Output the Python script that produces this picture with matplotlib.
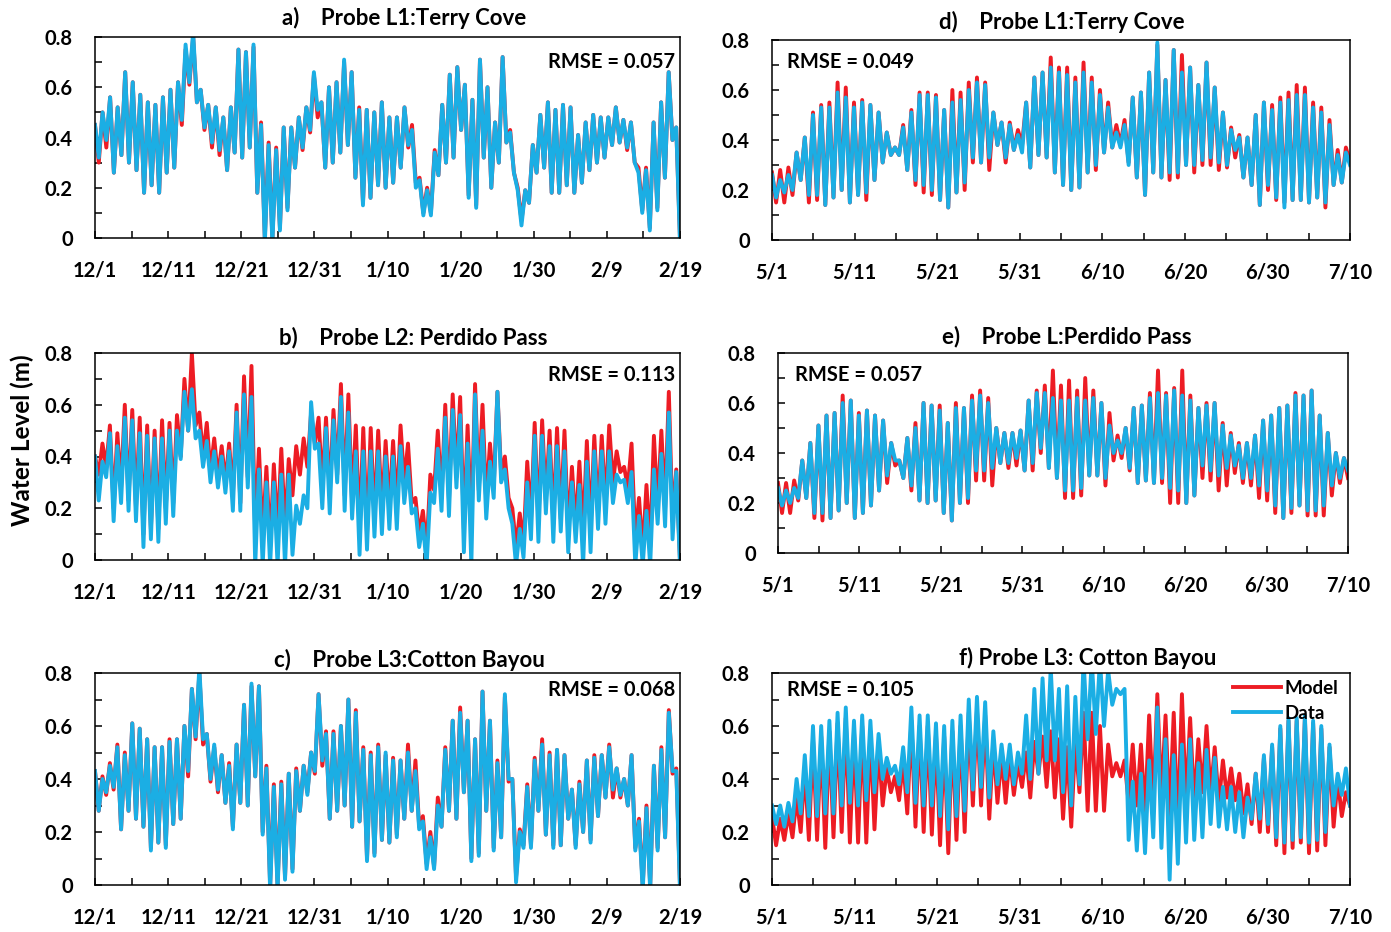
import numpy as np
import matplotlib
matplotlib.use('Agg')
import matplotlib.pyplot as plt
from matplotlib.ticker import MultipleLocator

plt.rcParams['font.family'] = ['Lato', 'DejaVu Sans']
plt.rcParams['font.weight'] = 'bold'

# ---------------- data: daily high / low water level (m) ----------------
left_labels = ['12/1', '12/11', '12/21', '12/31', '1/10', '1/20', '1/30', '2/9', '2/19']
right_labels = ['5/1', '5/11', '5/21', '5/31', '6/10', '6/20', '6/30', '7/10']

# a) Probe L1 Terry Cove, Dec-Feb
a_data_hi = [0.45, 0.50, 0.56, 0.52, 0.66, 0.62, 0.57, 0.54, 0.53, 0.56,
             0.59, 0.62, 0.77, 0.82, 0.59, 0.53, 0.52, 0.48, 0.52, 0.75,
             0.74, 0.77, 0.45, 0.37, 0.35, 0.44, 0.44, 0.48, 0.52, 0.66,
             0.54, 0.60, 0.62, 0.71, 0.66, 0.51, 0.51, 0.50, 0.54, 0.48,
             0.48, 0.52, 0.43, 0.23, 0.19, 0.34, 0.53, 0.65, 0.68, 0.61,
             0.55, 0.71, 0.60, 0.46, 0.72, 0.42, 0.19, 0.19, 0.37, 0.49,
             0.54, 0.51, 0.53, 0.52, 0.41, 0.46, 0.49, 0.48, 0.48, 0.52,
             0.47, 0.46, 0.26, 0.27, 0.46, 0.54, 0.66, 0.44]
a_data_lo = [0.32, 0.39, 0.26, 0.33, 0.30, 0.27, 0.18, 0.21, 0.18, 0.26,
             0.28, 0.47, 0.62, 0.54, 0.44, 0.38, 0.35, 0.27, 0.34, 0.32,
             0.36, 0.18, -0.02, -0.02, 0.03, 0.11, 0.28, 0.36, 0.43, 0.51,
             0.28, 0.30, 0.34, 0.37, 0.24, 0.13, 0.16, 0.21, 0.20, 0.22,
             0.28, 0.37, 0.20, 0.09, 0.09, 0.25, 0.30, 0.32, 0.43, 0.16,
             0.12, 0.32, 0.20, 0.30, 0.38, 0.26, 0.05, 0.14, 0.26, 0.28,
             0.18, 0.18, 0.21, 0.18, 0.22, 0.27, 0.30, 0.32, 0.37, 0.38,
             0.36, 0.30, 0.10, 0.03, 0.11, 0.24, 0.39, -0.02]
a_model_hi = [0.45, 0.50, 0.56, 0.52, 0.66, 0.62, 0.57, 0.54, 0.53, 0.56,
              0.59, 0.62, 0.75, 0.80, 0.59, 0.53, 0.52, 0.48, 0.52, 0.75,
              0.74, 0.76, 0.46, 0.38, 0.36, 0.44, 0.44, 0.48, 0.52, 0.65,
              0.54, 0.60, 0.62, 0.70, 0.66, 0.52, 0.51, 0.50, 0.54, 0.48,
              0.48, 0.52, 0.45, 0.24, 0.20, 0.35, 0.53, 0.65, 0.68, 0.61,
              0.55, 0.71, 0.60, 0.46, 0.72, 0.43, 0.20, 0.19, 0.37, 0.49,
              0.54, 0.51, 0.53, 0.52, 0.41, 0.46, 0.49, 0.48, 0.48, 0.52,
              0.47, 0.46, 0.28, 0.28, 0.46, 0.54, 0.66, 0.44]
a_model_lo = [0.30, 0.36, 0.26, 0.33, 0.30, 0.27, 0.18, 0.21, 0.18, 0.26,
              0.28, 0.45, 0.61, 0.54, 0.43, 0.36, 0.33, 0.27, 0.34, 0.32,
              0.36, 0.18, 0.0, 0.0, 0.04, 0.12, 0.28, 0.35, 0.42, 0.48,
              0.28, 0.30, 0.34, 0.37, 0.24, 0.14, 0.16, 0.21, 0.20, 0.22,
              0.28, 0.36, 0.22, 0.10, 0.10, 0.25, 0.30, 0.32, 0.43, 0.17,
              0.13, 0.32, 0.20, 0.30, 0.38, 0.26, 0.07, 0.14, 0.26, 0.28,
              0.18, 0.18, 0.21, 0.18, 0.22, 0.27, 0.30, 0.32, 0.37, 0.38,
              0.35, 0.30, 0.11, 0.04, 0.12, 0.24, 0.39, 0.0]

# b) Probe L2 Perdido Pass, Dec-Feb
b_data_hi = [0.40, 0.38, 0.49, 0.44, 0.55, 0.54, 0.49, 0.48, 0.47, 0.47,
             0.50, 0.50, 0.65, 0.66, 0.50, 0.46, 0.42, 0.40, 0.42, 0.57,
             0.64, 0.63, 0.35, 0.30, 0.30, 0.33, 0.33, 0.21, 0.25, 0.61,
             0.45, 0.51, 0.54, 0.63, 0.57, 0.42, 0.42, 0.42, 0.42, 0.40,
             0.40, 0.44, 0.36, 0.20, 0.14, 0.26, 0.43, 0.55, 0.58, 0.56,
             0.45, 0.64, 0.50, 0.38, 0.65, 0.35, 0.14, 0.12, 0.30, 0.48,
             0.48, 0.44, 0.44, 0.42, 0.30, 0.29, 0.38, 0.42, 0.42, 0.42,
             0.33, 0.31, 0.34, 0.17, 0.19, 0.35, 0.41, 0.57, 0.34]
b_data_lo = [0.23, 0.32, 0.15, 0.22, 0.19, 0.15, 0.05, 0.08, 0.07, 0.14,
             0.17, 0.39, 0.50, 0.47, 0.36, 0.30, 0.28, 0.26, 0.19, 0.19,
             0.28, -0.02, -0.02, -0.02, -0.02, -0.02, 0.02, 0.14, 0.20, 0.43,
             0.20, 0.18, 0.30, 0.19, 0.16, 0.02, 0.04, 0.09, 0.10, 0.12,
             0.12, 0.22, 0.18, 0.05, -0.02, 0.22, 0.19, 0.17, 0.28, 0.03,
             -0.02, 0.23, 0.16, 0.24, 0.30, 0.20, -0.02, 0.01, 0.08, 0.07,
             0.18, 0.07, 0.11, 0.03, 0.07, -0.02, 0.03, 0.12, 0.14, 0.22,
             0.30, 0.22, -0.02, -0.02, -0.02, 0.14, 0.13, 0.08, -0.02]
b_model_hi = [0.40, 0.45, 0.52, 0.49, 0.60, 0.58, 0.55, 0.52, 0.50, 0.54,
              0.53, 0.56, 0.70, 0.80, 0.57, 0.53, 0.47, 0.44, 0.45, 0.60,
              0.71, 0.75, 0.43, 0.36, 0.37, 0.43, 0.39, 0.44, 0.47, 0.57,
              0.55, 0.55, 0.58, 0.68, 0.64, 0.52, 0.51, 0.51, 0.50, 0.46,
              0.46, 0.52, 0.45, 0.24, 0.19, 0.33, 0.50, 0.60, 0.64, 0.63,
              0.52, 0.68, 0.60, 0.45, 0.65, 0.40, 0.20, 0.18, 0.38, 0.53,
              0.54, 0.50, 0.51, 0.50, 0.36, 0.38, 0.46, 0.48, 0.48, 0.52,
              0.42, 0.36, 0.45, 0.24, 0.29, 0.48, 0.50, 0.65, 0.35]
b_model_lo = [0.33, 0.36, 0.20, 0.28, 0.23, 0.20, 0.10, 0.12, 0.12, 0.20,
              0.22, 0.40, 0.50, 0.52, 0.40, 0.34, 0.32, 0.30, 0.25, 0.22,
              0.32, 0.10, 0.08, 0.05, 0.10, 0.12, 0.25, 0.33, 0.36, 0.45,
              0.28, 0.25, 0.33, 0.25, 0.22, 0.10, 0.10, 0.15, 0.18, 0.20,
              0.20, 0.30, 0.22, 0.10, 0.04, 0.27, 0.24, 0.23, 0.32, 0.12,
              0.12, 0.27, 0.22, 0.28, 0.33, 0.24, 0.05, 0.06, 0.15, 0.14,
              0.23, 0.14, 0.16, 0.10, 0.12, 0.10, 0.12, 0.18, 0.20, 0.30,
              0.34, 0.28, 0.08, 0.03, 0.05, 0.20, 0.20, 0.15, 0.0]

# c) Probe L3 Cotton Bayou, Dec-Feb
c_data_hi = [0.43, 0.40, 0.45, 0.52, 0.49, 0.61, 0.59, 0.55, 0.52, 0.52,
             0.54, 0.55, 0.60, 0.74, 0.82, 0.57, 0.53, 0.49, 0.45, 0.53,
             0.68, 0.76, 0.75, 0.44, 0.37, 0.38, 0.42, 0.43, 0.45, 0.50,
             0.72, 0.57, 0.57, 0.60, 0.70, 0.65, 0.51, 0.49, 0.52, 0.50,
             0.47, 0.47, 0.50, 0.43, 0.24, 0.18, 0.30, 0.51, 0.62, 0.65,
             0.62, 0.55, 0.73, 0.62, 0.46, 0.72, 0.40, 0.20, 0.37,
             0.47, 0.53, 0.49, 0.51, 0.49, 0.36, 0.38, 0.47, 0.48, 0.49,
             0.52, 0.44, 0.40, 0.49, 0.24, 0.29, 0.45, 0.51, 0.65, 0.43]
c_data_lo = [0.28, 0.35, 0.37, 0.21, 0.28, 0.25, 0.22, 0.13, 0.16, 0.14,
             0.23, 0.25, 0.43, 0.56, 0.55, 0.40, 0.36, 0.31, 0.21, 0.31,
             0.30, 0.41, 0.19, -0.02, -0.02, 0.02, 0.05, 0.28, 0.34, 0.43,
             0.47, 0.25, 0.28, 0.30, 0.22, 0.24, 0.09, 0.11, 0.17, 0.16,
             0.18, 0.25, 0.28, 0.21, 0.06, 0.06, 0.22, 0.28, 0.25, 0.35,
             0.09, 0.11, 0.28, 0.13, 0.18, 0.40, 0.01, 0.14, 0.14,
             0.28, 0.19, 0.14, 0.15, 0.25, 0.14, 0.20, 0.16, 0.26, 0.33,
             0.36, 0.34, 0.30, 0.13, -0.02, -0.02, 0.13, 0.18, 0.43, -0.02]
c_model_hi = [0.43, 0.41, 0.46, 0.53, 0.50, 0.61, 0.59, 0.55, 0.52, 0.52,
              0.55, 0.55, 0.60, 0.74, 0.80, 0.57, 0.52, 0.49, 0.46, 0.53,
              0.68, 0.75, 0.75, 0.45, 0.38, 0.39, 0.42, 0.44, 0.45, 0.50,
              0.72, 0.58, 0.58, 0.60, 0.70, 0.66, 0.52, 0.50, 0.53, 0.49,
              0.48, 0.47, 0.53, 0.47, 0.26, 0.20, 0.33, 0.52, 0.62, 0.67,
              0.62, 0.55, 0.73, 0.62, 0.47, 0.71, 0.40, 0.21, 0.38,
              0.48, 0.55, 0.50, 0.51, 0.49, 0.36, 0.39, 0.47, 0.49, 0.49,
              0.53, 0.44, 0.40, 0.49, 0.25, 0.30, 0.45, 0.52, 0.66, 0.44]
c_model_lo = [0.28, 0.34, 0.36, 0.21, 0.28, 0.25, 0.22, 0.14, 0.16, 0.15,
              0.23, 0.25, 0.41, 0.55, 0.53, 0.39, 0.35, 0.31, 0.22, 0.31,
              0.30, 0.41, 0.20, 0.0, 0.0, 0.03, 0.06, 0.28, 0.35, 0.42,
              0.45, 0.25, 0.28, 0.30, 0.22, 0.24, 0.10, 0.12, 0.17, 0.16,
              0.19, 0.25, 0.28, 0.22, 0.08, 0.07, 0.22, 0.28, 0.25, 0.35,
              0.10, 0.12, 0.28, 0.14, 0.18, 0.39, 0.03, 0.15, 0.15,
              0.28, 0.19, 0.15, 0.15, 0.25, 0.15, 0.20, 0.17, 0.26, 0.33,
              0.33, 0.33, 0.30, 0.14, 0.0, 0.0, 0.14, 0.18, 0.42, 0.0]

# d) Probe L1 Terry Cove, May-Jul
d_data_hi = [0.26, 0.24, 0.26, 0.35, 0.41, 0.50, 0.53, 0.53, 0.59, 0.57,
             0.53, 0.55, 0.54, 0.51, 0.43, 0.37, 0.45, 0.51, 0.58, 0.58,
             0.57, 0.52, 0.55, 0.56, 0.60, 0.63, 0.62, 0.51, 0.47, 0.46,
             0.42, 0.55, 0.65, 0.67, 0.69, 0.67, 0.66, 0.63, 0.67, 0.63,
             0.58, 0.53, 0.43, 0.46, 0.57, 0.59, 0.67, 0.79, 0.64, 0.76,
             0.67, 0.69, 0.62, 0.71, 0.61, 0.51, 0.44, 0.41, 0.41, 0.50,
             0.55, 0.52, 0.55, 0.56, 0.58, 0.58, 0.53, 0.51, 0.46, 0.34,
             0.35]
d_data_lo = [0.17, 0.19, 0.20, 0.24, 0.18, 0.18, 0.14, 0.17, 0.20, 0.15,
             0.18, 0.19, 0.24, 0.31, 0.34, 0.34, 0.28, 0.24, 0.22, 0.20,
             0.16, 0.13, 0.19, 0.23, 0.33, 0.31, 0.33, 0.38, 0.33, 0.36,
             0.35, 0.29, 0.34, 0.33, 0.27, 0.22, 0.20, 0.21, 0.27, 0.30,
             0.35, 0.37, 0.37, 0.30, 0.25, 0.18, 0.27, 0.25, 0.27, 0.27,
             0.30, 0.30, 0.32, 0.33, 0.31, 0.30, 0.36, 0.25, 0.22, 0.14,
             0.22, 0.17, 0.13, 0.16, 0.16, 0.15, 0.17, 0.15, 0.22, 0.23,
             0.30]
d_model_hi = [0.27, 0.28, 0.29, 0.35, 0.41, 0.51, 0.54, 0.55, 0.63, 0.61,
              0.55, 0.56, 0.54, 0.51, 0.43, 0.37, 0.46, 0.52, 0.59, 0.59,
              0.58, 0.52, 0.60, 0.59, 0.63, 0.65, 0.63, 0.51, 0.47, 0.47,
              0.44, 0.55, 0.65, 0.67, 0.73, 0.69, 0.69, 0.65, 0.71, 0.65,
              0.60, 0.55, 0.46, 0.48, 0.57, 0.59, 0.67, 0.78, 0.64, 0.76,
              0.74, 0.69, 0.62, 0.71, 0.61, 0.51, 0.45, 0.42, 0.41, 0.50,
              0.55, 0.54, 0.57, 0.59, 0.62, 0.61, 0.55, 0.53, 0.48, 0.36,
              0.37]
d_model_lo = [0.15, 0.15, 0.18, 0.24, 0.15, 0.16, 0.14, 0.17, 0.20, 0.15,
              0.18, 0.16, 0.24, 0.31, 0.34, 0.34, 0.28, 0.22, 0.19, 0.18,
              0.16, 0.13, 0.19, 0.20, 0.31, 0.31, 0.28, 0.38, 0.31, 0.36,
              0.38, 0.29, 0.34, 0.33, 0.27, 0.22, 0.20, 0.21, 0.27, 0.28,
              0.35, 0.37, 0.38, 0.31, 0.25, 0.18, 0.27, 0.25, 0.24, 0.25,
              0.30, 0.27, 0.30, 0.30, 0.28, 0.29, 0.33, 0.25, 0.22, 0.14,
              0.20, 0.16, 0.15, 0.16, 0.16, 0.15, 0.17, 0.13, 0.22, 0.23,
              0.31]

# e) Probe L Perdido Pass, May-Jul
e_data_hi = [0.26, 0.25, 0.26, 0.37, 0.44, 0.51, 0.55, 0.56, 0.60, 0.61,
             0.55, 0.57, 0.55, 0.53, 0.44, 0.37, 0.46, 0.50, 0.60, 0.59,
             0.57, 0.52, 0.58, 0.58, 0.61, 0.63, 0.60, 0.50, 0.48, 0.48,
             0.49, 0.61, 0.64, 0.64, 0.62, 0.61, 0.61, 0.62, 0.61, 0.62,
             0.60, 0.51, 0.45, 0.50, 0.58, 0.59, 0.62, 0.64, 0.63, 0.65,
             0.63, 0.61, 0.58, 0.59, 0.60, 0.51, 0.47, 0.43, 0.44, 0.47,
             0.53, 0.55, 0.58, 0.59, 0.63, 0.63, 0.65, 0.55, 0.48, 0.40,
             0.38]
e_data_lo = [0.19, 0.20, 0.22, 0.22, 0.16, 0.16, 0.14, 0.17, 0.20, 0.14,
             0.16, 0.19, 0.25, 0.31, 0.37, 0.30, 0.27, 0.21, 0.20, 0.21,
             0.16, 0.13, 0.20, 0.22, 0.33, 0.33, 0.34, 0.36, 0.36, 0.38,
             0.33, 0.36, 0.42, 0.34, 0.30, 0.25, 0.25, 0.26, 0.31, 0.31,
             0.30, 0.40, 0.40, 0.34, 0.28, 0.29, 0.28, 0.30, 0.26, 0.25,
             0.20, 0.23, 0.35, 0.33, 0.31, 0.34, 0.35, 0.30, 0.30, 0.27,
             0.25, 0.19, 0.14, 0.18, 0.19, 0.17, 0.17, 0.19, 0.27, 0.30,
             0.33]
e_model_hi = [0.28, 0.28, 0.29, 0.37, 0.44, 0.51, 0.55, 0.56, 0.63, 0.61,
              0.56, 0.57, 0.55, 0.53, 0.44, 0.37, 0.46, 0.52, 0.60, 0.59,
              0.59, 0.52, 0.60, 0.58, 0.63, 0.65, 0.62, 0.50, 0.48, 0.48,
              0.49, 0.61, 0.65, 0.67, 0.73, 0.67, 0.69, 0.65, 0.70, 0.65,
              0.60, 0.56, 0.47, 0.50, 0.58, 0.59, 0.64, 0.73, 0.64, 0.66,
              0.73, 0.63, 0.58, 0.60, 0.60, 0.52, 0.48, 0.44, 0.44, 0.47,
              0.53, 0.55, 0.58, 0.59, 0.64, 0.63, 0.65, 0.55, 0.48, 0.40,
              0.38]
e_model_lo = [0.16, 0.16, 0.21, 0.22, 0.14, 0.13, 0.14, 0.17, 0.20, 0.14,
              0.16, 0.19, 0.25, 0.28, 0.35, 0.30, 0.25, 0.21, 0.20, 0.21,
              0.16, 0.13, 0.20, 0.20, 0.29, 0.29, 0.27, 0.36, 0.34, 0.35,
              0.33, 0.33, 0.40, 0.34, 0.30, 0.22, 0.22, 0.23, 0.31, 0.31,
              0.27, 0.37, 0.38, 0.33, 0.28, 0.29, 0.28, 0.28, 0.20, 0.20,
              0.20, 0.23, 0.30, 0.29, 0.25, 0.27, 0.32, 0.28, 0.27, 0.22,
              0.21, 0.16, 0.14, 0.16, 0.19, 0.15, 0.15, 0.15, 0.23, 0.28,
              0.30]

# f) Probe L3 Cotton Bayou, May-Jul
f_data_hi = [0.30, 0.30, 0.31, 0.40, 0.49, 0.60, 0.60, 0.62, 0.65, 0.67,
             0.62, 0.64, 0.62, 0.57, 0.48, 0.45, 0.52, 0.67, 0.64, 0.64,
             0.61, 0.60, 0.62, 0.64, 0.70, 0.71, 0.69, 0.58, 0.53, 0.53,
             0.50, 0.64, 0.74, 0.78, 0.82, 0.74, 0.75, 0.71, 0.85, 0.85,
             0.85, 0.81, 0.74, 0.74, 0.39, 0.42, 0.47, 0.67, 0.55, 0.49,
             0.53, 0.55, 0.46, 0.51, 0.48, 0.37, 0.37, 0.35, 0.33, 0.42,
             0.49, 0.53, 0.60, 0.63, 0.63, 0.64, 0.62, 0.60, 0.53, 0.42,
             0.44]
f_data_lo = [0.23, 0.22, 0.24, 0.27, 0.26, 0.26, 0.27, 0.27, 0.30, 0.31,
             0.30, 0.32, 0.35, 0.40, 0.42, 0.38, 0.35, 0.31, 0.30, 0.30,
             0.26, 0.21, 0.26, 0.28, 0.36, 0.37, 0.33, 0.38, 0.40, 0.38,
             0.42, 0.40, 0.42, 0.47, 0.47, 0.35, 0.30, 0.38, 0.55, 0.57,
             0.60, 0.68, 0.72, 0.17, 0.13, 0.12, 0.18, 0.14, 0.02, 0.08,
             0.16, 0.17, 0.18, 0.23, 0.22, 0.21, 0.20, 0.18, 0.25, 0.25,
             0.23, 0.18, 0.16, 0.17, 0.18, 0.16, 0.17, 0.20, 0.30, 0.34,
             0.30]
f_model_hi = [0.26, 0.25, 0.27, 0.33, 0.44, 0.55, 0.56, 0.58, 0.61, 0.63,
              0.58, 0.60, 0.58, 0.53, 0.44, 0.41, 0.47, 0.62, 0.60, 0.60,
              0.57, 0.56, 0.58, 0.60, 0.65, 0.66, 0.64, 0.54, 0.49, 0.49,
              0.46, 0.50, 0.54, 0.56, 0.58, 0.55, 0.52, 0.55, 0.65, 0.65,
              0.60, 0.53, 0.46, 0.47, 0.53, 0.53, 0.64, 0.72, 0.64, 0.65,
              0.72, 0.63, 0.55, 0.60, 0.52, 0.47, 0.44, 0.42, 0.38, 0.42,
              0.48, 0.52, 0.59, 0.62, 0.62, 0.63, 0.61, 0.59, 0.52, 0.40,
              0.35]
f_model_lo = [0.15, 0.17, 0.18, 0.20, 0.17, 0.17, 0.14, 0.18, 0.20, 0.16,
              0.16, 0.16, 0.21, 0.30, 0.35, 0.32, 0.27, 0.22, 0.20, 0.19,
              0.15, 0.12, 0.17, 0.20, 0.30, 0.30, 0.25, 0.31, 0.31, 0.34,
              0.37, 0.33, 0.42, 0.37, 0.33, 0.25, 0.22, 0.35, 0.28, 0.28,
              0.28, 0.41, 0.41, 0.31, 0.30, 0.26, 0.30, 0.32, 0.25, 0.20,
              0.30, 0.30, 0.35, 0.34, 0.31, 0.33, 0.32, 0.27, 0.23, 0.20,
              0.20, 0.15, 0.12, 0.14, 0.16, 0.12, 0.13, 0.15, 0.22, 0.26,
              0.30]

RED = '#ED1C24'
BLUE = '#1BAEE4'
W, H = 1391, 932


def tide(hi, lo, span):
    # alternate high and low water over the record length
    y = np.empty(2 * len(hi))
    y[0::2] = hi
    y[1::2] = lo
    x = np.linspace(0, span, len(y))
    return x, y


def box(l, t, r, b):
    return [l / W, 1 - b / H, (r - l) / W, (b - t) / H]


panels = [
    # rect(px), span, labels, model hi/lo, data hi/lo, title(x,y), rmse(text, x, y, ha)
    (box(95, 37, 680, 238), 80, left_labels, a_model_hi, a_model_lo, a_data_hi, a_data_lo,
     'a)    Probe L1:Terry Cove', 404, 18, 'RMSE = 0.057', 675, 62, 'right'),
    (box(95, 353, 680, 560), 80, left_labels, b_model_hi, b_model_lo, b_data_hi, b_data_lo,
     'b)    Probe L2: Perdido Pass', 413, 338, 'RMSE = 0.113', 675, 375, 'right'),
    (box(95, 673, 680, 885), 80, left_labels, c_model_hi, c_model_lo, c_data_hi, c_data_lo,
     'c)    Probe L3:Cotton Bayou', 409, 660, 'RMSE = 0.068', 675, 690, 'right'),
    (box(772, 40, 1350, 240), 70, right_labels, d_model_hi, d_model_lo, d_data_hi, d_data_lo,
     'd)    Probe L1:Terry Cove', 1062, 22, 'RMSE = 0.049', 787, 62, 'left'),
    (box(778, 353, 1348, 553), 70, right_labels, e_model_hi, e_model_lo, e_data_hi, e_data_lo,
     'e)    Probe L:Perdido Pass', 1067, 337, 'RMSE = 0.057', 795, 375, 'left'),
    (box(772, 673, 1350, 885), 70, right_labels, f_model_hi, f_model_lo, f_data_hi, f_data_lo,
     'f) Probe L3: Cotton Bayou', 1088, 658, 'RMSE = 0.105', 787, 690, 'left'),
]

fig = plt.figure(figsize=(W / 100, H / 100), dpi=100)

for (rect, span, labels, mhi, mlo, dhi, dlo, title, tx, ty, rmse, rx, ry, rha) in panels:
    ax = fig.add_axes(rect)
    xm, ym = tide(mhi, mlo, span)
    xd, yd = tide(dhi, dlo, span)
    ax.plot(xm, ym, color=RED, lw=2.8, label='Model', solid_joinstyle='round')
    ax.plot(xd, yd, color=BLUE, lw=2.8, label='Data', solid_joinstyle='round')
    ax.set_xlim(0, span)
    ax.set_ylim(0, 0.8)
    ax.set_xticks(np.arange(0, span + 1, 10))
    ax.set_xticklabels(labels)
    ax.xaxis.set_minor_locator(MultipleLocator(5))
    ax.set_yticks([0, 0.2, 0.4, 0.6, 0.8])
    ax.set_yticklabels(['0', '0.2', '0.4', '0.6', '0.8'])
    ax.yaxis.set_minor_locator(MultipleLocator(0.1))
    ax.tick_params(axis='both', which='both', direction='in', length=5, width=1.1)
    ax.tick_params(axis='x', which='major', pad=16.5, labelsize=14.5)
    ax.tick_params(axis='y', which='major', pad=16, labelsize=14.5)
    for s in ax.spines.values():
        s.set_linewidth(1.1)
    fig.text(tx / W, 1 - ty / H, title, ha='center', va='center', fontsize=16, fontweight='bold')
    fig.text(rx / W, 1 - ry / H, rmse, ha=rha, va='center', fontsize=14.5, fontweight='bold')
    last = ax

last.legend(loc='upper right', bbox_to_anchor=(1.0, 1.02), frameon=False, fontsize=13.5,
            handlelength=2.6, handletextpad=0.2, labelspacing=0.4, borderaxespad=0.2)

fig.text(22 / W, 1 - 440 / H, 'Water Level (m)', rotation=90, ha='center', va='center',
         fontsize=17.5, fontweight='bold')

fig.savefig('out.png', dpi=100)
